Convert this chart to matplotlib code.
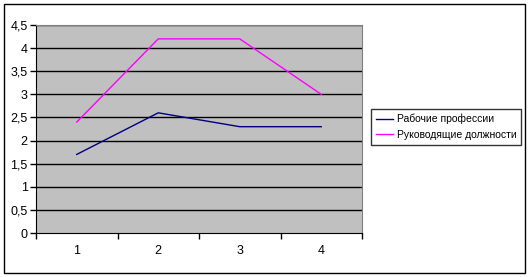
import matplotlib
matplotlib.use('Agg')
from matplotlib import pyplot as plt
from matplotlib.patches import Rectangle

# data
categories = [1, 2, 3, 4]
workers = [1.7, 2.6, 2.3, 2.3]
managers = [2.4, 4.2, 4.2, 3.0]
series_names = ['Рабочие профессии', 'Руководящие должности']
y_ticks = [0, 0.5, 1, 1.5, 2, 2.5, 3, 3.5, 4, 4.5]
y_labels = ['0', '0,5', '1', '1,5', '2', '2,5', '3', '3,5', '4', '4,5']

plt.rcParams['font.family'] = ['Liberation Sans', 'DejaVu Sans']

W, H = 529, 277
fig = plt.figure(figsize=(W / 100, H / 100), dpi=100)
fig.patch.set_facecolor('white')

# plot area in pixels: left 36, right 362, top 25, bottom 233
ax = fig.add_axes([36 / W, 1 - 233 / H, (362 - 36) / W, (233 - 25) / H])
ax.set_facecolor('#C0C0C0')

l1, = ax.plot(categories, workers, color='#000080', lw=1)
l2, = ax.plot(categories, managers, color='#FF00FF', lw=1)

ax.set_xlim(0.5, 4.5)
ax.set_ylim(0, 4.5)
ax.set_yticks(y_ticks)
ax.set_yticklabels(y_labels)
for v in y_ticks[1:]:
    ax.axhline(v, color='black', lw=1, zorder=1)

# category ticks sit between categories, labels in the middle
ax.set_xticks([0.5, 1.5, 2.5, 3.5, 4.5])
ax.set_xticklabels([])
ax.set_xticks(categories, minor=True)
ax.set_xticklabels([str(c) for c in categories], minor=True)
ax.tick_params(axis='x', which='minor', length=0, pad=9, labelsize=9)
ax.tick_params(axis='x', which='major', direction='out', length=4, width=1)
ax.tick_params(axis='y', direction='out', length=4, width=1, labelsize=9, pad=2)

ax.spines['left'].set_color('black')
ax.spines['bottom'].set_color('black')
ax.spines['top'].set_color('#808080')
ax.spines['right'].set_color('#808080')

# legend box
leg = fig.legend([l1, l2], series_names, loc='upper left',
                 bbox_to_anchor=(371 / W, 1 - 109 / H),
                 frameon=True, fancybox=False, fontsize=7.5, handlelength=1.7,
                 handletextpad=0.3, borderpad=0.45, labelspacing=0.55, borderaxespad=0)
leg.get_frame().set_edgecolor('black')
leg.get_frame().set_linewidth(1)

# outer chart border
fig.patches.append(Rectangle((4 / W, 4 / H), (525 - 4) / W, (273 - 4) / H,
                             transform=fig.transFigure, fill=False,
                             edgecolor='black', lw=1))

fig.savefig('out.png', dpi=100)
